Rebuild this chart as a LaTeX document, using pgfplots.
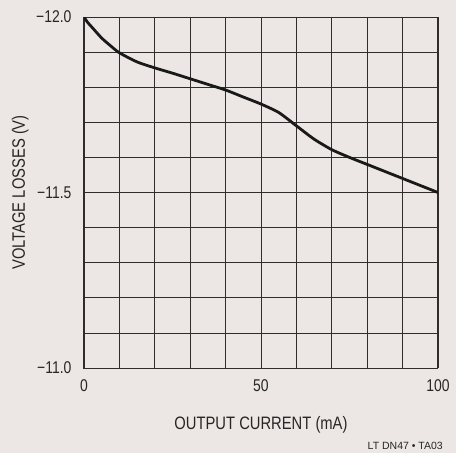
\documentclass[border=0pt]{standalone}
\usepackage{fontspec}
\setmainfont{Liberation Sans}[FakeStretch=0.82]
\newfontfamily\plainfont{Liberation Sans}
\usepackage{pgfplots}
\pgfplotsset{compat=1.18}
\definecolor{bgc}{RGB}{236,231,228}
\definecolor{gridc}{RGB}{45,45,45}
\begin{document}
\begin{tikzpicture}[x=1pt,y=1pt]
\fill[bgc] (-84,-85) rectangle (372,368);
\begin{axis}[
  at={(0,0)}, anchor=south west,
  scale only axis, width=354pt, height=351pt,
  xmin=0, xmax=100, ymin=-12, ymax=-11,
  y dir=reverse,
  xtick={0,50,100},
  minor xtick={10,20,30,40,60,70,80,90},
  ytick={-12,-11.5,-11},
  yticklabels={−12.0,−11.5,−11.0},
  minor ytick={-11.9,-11.8,-11.7,-11.6,-11.4,-11.3,-11.2,-11.1},
  grid=both,
  major grid style={gridc, line width=0.8pt},
  minor grid style={gridc, line width=0.8pt},
  axis line style={gridc, line width=1pt},
  major tick length=0pt, minor tick length=0pt,
  tick label style={font=\fontsize{17}{19}\selectfont, text=black!85},
  xticklabel style={yshift=-8pt},
  yticklabel style={xshift=-9pt},
  /pgf/number format/assume math mode=true,
  xlabel={OUTPUT CURRENT (mA)},
  ylabel={VOLTAGE LOSSES (V)},
  label style={font=\fontsize{18}{20}\selectfont, text=black!85},
  xlabel style={at={(axis description cs:0.5,-0.1766)}, anchor=base},
  ylabel style={at={(axis description cs:-0.1667,0.5)}, anchor=base, rotate=0},
]
\addplot[black!90, line width=2.8pt, smooth, tension=0.4] coordinates {
(0,-12.0) (1,-11.985) (2.5,-11.968) (5,-11.94) (7.5,-11.918) (10,-11.898)
(15,-11.872) (20,-11.855) (25,-11.84) (30,-11.824) (35,-11.808) (40,-11.792)
(45,-11.772) (50,-11.752) (55,-11.728) (60,-11.69) (65,-11.652) (70,-11.622)
(75,-11.600) (80,-11.580) (85,-11.560) (90,-11.540) (95,-11.520) (100,-11.500)
};
\end{axis}
\node[anchor=base east, inner sep=0pt, font=\plainfont\fontsize{10.5}{12}\selectfont, text=black!85] at (359,-82) {LT DN47 • TA03};
\end{tikzpicture}
\end{document}
